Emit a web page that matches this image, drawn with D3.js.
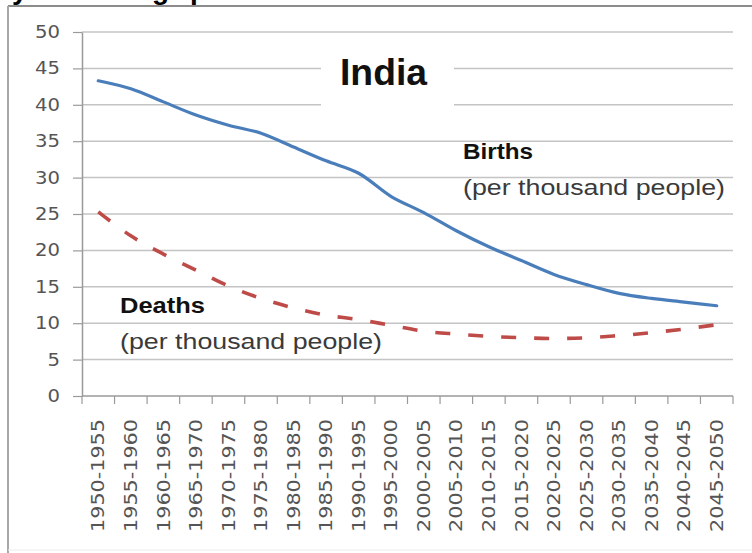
<!DOCTYPE html>
<html>
<head>
<meta charset="utf-8">
<script src="https://cdn.jsdelivr.net/npm/d3@7"></script>
<style>
  html, body { margin: 0; padding: 0; background: #fff; }
  svg { display: block; }
</style>
</head>
<body>
<svg id="chart" width="752" height="553"></svg>
<script>
const categories = ["1950-1955","1955-1960","1960-1965","1965-1970","1970-1975","1975-1980",
  "1980-1985","1985-1990","1990-1995","1995-2000","2000-2005","2005-2010","2010-2015",
  "2015-2020","2020-2025","2025-2030","2030-2035","2035-2040","2040-2045","2045-2050"];
const births = [43.3, 42.2, 40.4, 38.6, 37.2, 36.1, 34.2, 32.3, 30.6, 27.4,
  25.2, 22.7, 20.5, 18.6, 16.7, 15.3, 14.1, 13.4, 12.9, 12.4];
const deaths = [25.3, 22.0, 19.5, 17.3, 15.1, 13.4, 12.1, 11.1, 10.5, 9.7,
  8.9, 8.5, 8.2, 8.0, 7.9, 8.0, 8.3, 8.7, 9.2, 9.8];
const yTicks = [0, 5, 10, 15, 20, 25, 30, 35, 40, 45, 50];
const titleText = "India";
const birthsLabel = ["Births", "(per thousand people)"];
const deathsLabel = ["Deaths", "(per thousand people)"];

const svg = d3.select("#chart");

// frame
svg.append("line").attr("x1", 8).attr("x2", 752).attr("y1", 6).attr("y2", 6)
  .attr("stroke", "#8c8c8c").attr("stroke-width", 2);
svg.append("line").attr("x1", 8).attr("x2", 8).attr("y1", 6).attr("y2", 553)
  .attr("stroke", "#a8a8a8").attr("stroke-width", 2);
svg.append("line").attr("x1", 8).attr("x2", 752).attr("y1", 550).attr("y2", 550)
  .attr("stroke", "#ececec").attr("stroke-width", 1);

// heading fragments clipped at the top edge, as in the reference
const head = svg.append("g").attr("font-family", "Liberation Sans, Arial, sans-serif")
  .attr("font-weight", "bold").attr("font-size", 28).attr("fill", "#000");
head.append("text").attr("x", 12).attr("y", -1).text("y");
head.append("text").attr("x", 152).attr("y", -1).text("g");
head.append("text").attr("x", 190).attr("y", -1).text("p");

const x = d3.scaleBand().domain(categories).range([82, 733]);
const y = d3.scaleLinear().domain([0, 50]).range([396, 32]);

// gridlines
svg.append("g").selectAll("line").data(yTicks.filter(d => d > 0)).join("line")
  .attr("x1", 82).attr("x2", 733)
  .attr("y1", d => y(d)).attr("y2", d => y(d))
  .attr("stroke", "#c4c4c4").attr("stroke-width", 1.5);

// y axis
const yAxis = d3.axisLeft(y).tickValues(yTicks).tickSize(9).tickSizeOuter(0).tickPadding(10);
const gy = svg.append("g").attr("transform", "translate(82,0)").call(yAxis);
gy.select(".domain").attr("stroke", "#9a9a9a").attr("stroke-width", 1.5);
gy.selectAll(".tick line").attr("stroke", "#9a9a9a").attr("stroke-width", 1.2);
gy.selectAll(".tick text")
  .attr("font-family", "DejaVu Sans, sans-serif").attr("font-size", 17)
  .attr("fill", "#555").attr("x", -22)
  .attr("textLength", d => String(d).length * 12.5)
  .attr("lengthAdjust", "spacingAndGlyphs");

// x axis
const gx = svg.append("g").attr("transform", "translate(0,396)");
gx.append("line").attr("x1", 82).attr("x2", 733).attr("y1", 0).attr("y2", 0)
  .attr("stroke", "#9a9a9a").attr("stroke-width", 1.5);
const bounds = categories.map(c => x(c)).concat([x.range()[1]]);
gx.selectAll("line.tk").data(bounds).join("line").attr("class", "tk")
  .attr("x1", d => d).attr("x2", d => d).attr("y1", 0).attr("y2", 8)
  .attr("stroke", "#9a9a9a").attr("stroke-width", 1.2);
gx.selectAll("text").data(categories).join("text")
  .attr("transform", d => `translate(${x(d) + x.bandwidth() / 2},23) rotate(-90)`)
  .attr("text-anchor", "end").attr("dy", "0.36em")
  .attr("font-family", "DejaVu Sans, sans-serif").attr("font-size", 17)
  .attr("fill", "#555")
  .attr("textLength", 113).attr("lengthAdjust", "spacingAndGlyphs")
  .text(d => d);

// title box
svg.append("rect").attr("x", 321).attr("y", 48).attr("width", 133).attr("height", 74)
  .attr("fill", "#fff");
svg.append("text").attr("x", 340).attr("y", 85)
  .attr("font-family", "Liberation Sans, Arial, sans-serif").attr("font-weight", "bold")
  .attr("font-size", 37).attr("fill", "#111")
  .attr("textLength", 87).attr("lengthAdjust", "spacingAndGlyphs")
  .text(titleText);

// lines
const cx = d => x(d) + x.bandwidth() / 2;
const lineGen = vals => d3.line()
  .x((d, i) => cx(categories[i]))
  .y(d => y(d))
  .curve(d3.curveCatmullRom.alpha(0.5))(vals);

svg.append("path").attr("d", lineGen(births))
  .attr("fill", "none").attr("stroke", "#4a7ebb").attr("stroke-width", 3.2)
  .attr("stroke-linejoin", "round").attr("stroke-linecap", "round");
svg.append("path").attr("d", lineGen(deaths))
  .attr("fill", "none").attr("stroke", "#be4b48").attr("stroke-width", 3.6)
  .attr("stroke-dasharray", "15,18");

// labels
function label(lines, x0, y0) {
  svg.append("text").attr("x", x0).attr("y", y0)
    .attr("font-family", "Liberation Sans, Arial, sans-serif").attr("font-weight", "bold")
    .attr("font-size", 22).attr("fill", "#111")
    .attr("textLength", lines[0] === "Births" ? 70 : 85).attr("lengthAdjust", "spacingAndGlyphs")
    .text(lines[0]);
  svg.append("text").attr("x", x0).attr("y", y0 + 36)
    .attr("font-family", "Liberation Sans, Arial, sans-serif")
    .attr("font-size", 22).attr("fill", "#3a3a3a")
    .attr("textLength", 262).attr("lengthAdjust", "spacingAndGlyphs")
    .text(lines[1]);
}
label(birthsLabel, 463, 159);
label(deathsLabel, 120, 313);
</script>
</body>
</html>
